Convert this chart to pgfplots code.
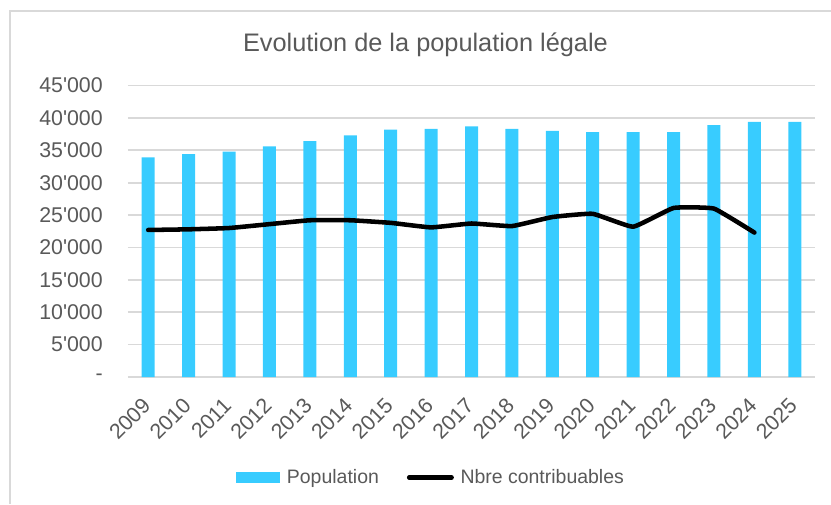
\documentclass[border=0pt]{standalone}
\usepackage{fontspec}
\setmainfont{Liberation Sans}[Ligatures=TeXOff]
\usepackage{pgfplots}
\pgfplotsset{compat=1.18}
\definecolor{barblue}{RGB}{56,204,255}
\definecolor{txtgray}{RGB}{89,89,89}
\definecolor{gridgray}{RGB}{217,217,217}
\begin{document}
\begin{tikzpicture}
\useasboundingbox (0pt,0pt) rectangle (623.25pt,378pt);
\draw[gridgray, line width=1.5pt] (7.5pt,0pt) -- (7.5pt,369.75pt) -- (623.25pt,369.75pt);
\node[anchor=base, text=txtgray, font=\fontsize{19}{22}\selectfont, inner sep=0pt] at (319.1pt,339pt) {Evolution de la population légale};
\begin{axis}[
  at={(96pt,95.25pt)}, anchor=south west,
  scale only axis, width=515.25pt, height=218.6pt,
  xmin=-0.5, xmax=16.5, ymin=0, ymax=45000,
  xtick={0,...,16},
  xticklabels={2009,2010,2011,2012,2013,2014,2015,2016,2017,2018,2019,2020,2021,2022,2023,2024,2025},
  ytick={0,5000,...,45000},
  scaled y ticks=false,
  yticklabels={-,5'000,10'000,15'000,20'000,25'000,30'000,35'000,40'000,45'000},
  /pgf/number format/assume math mode=true,
  axis line style={draw=none},
  tick style={draw=none},
  ymajorgrids, grid style={gridgray, line width=1.25pt},
  ticklabel style={text=txtgray, font=\fontsize{16}{19}\selectfont, inner sep=0pt},
  yticklabel style={anchor=east, xshift=-18.75pt},
  xticklabel style={yshift=-18.75pt, xshift=-1.1pt, rotate=45, anchor=east},
  legend columns=2,
  legend style={at={(0.1572,-0.3448)}, anchor=west, draw=none, fill=none, inner sep=0pt,
    font=\fontsize{14.6}{17}\selectfont, text=txtgray,
    /tikz/every odd column/.append style={column sep=3pt},
    /tikz/every even column/.append style={column sep=19pt}},
  clip=false,
]
\addplot[ybar, bar width=9.75pt, fill=barblue, draw=none,
  legend image code/.code={\fill[barblue] (0pt,-4.125pt) rectangle (33pt,4.125pt);}]
  coordinates {(0,33900) (1,34400) (2,34800) (3,35600) (4,36400) (5,37300) (6,38200) (7,38300) (8,38700) (9,38300) (10,38000) (11,37800) (12,37800) (13,37800) (14,38900) (15,39400) (16,39400)};
\addlegendentry{Population}
\addplot[black, line width=3.4pt, line cap=round, line join=round, smooth, tension=0.2, mark=none,
  legend image code/.code={\draw[black, line width=3.4pt, line cap=round] (1.7pt,0pt) -- (33.5pt,0pt);}]
  coordinates {(0,22700) (1,22800) (2,23000) (3,23600) (4,24200) (5,24200) (6,23800) (7,23100) (8,23700) (9,23300) (10,24700) (11,25200) (12,23200) (13,26100) (14,26000) (15,22300)};
\addlegendentry{Nbre contribuables}
\end{axis}
\end{tikzpicture}
\end{document}
